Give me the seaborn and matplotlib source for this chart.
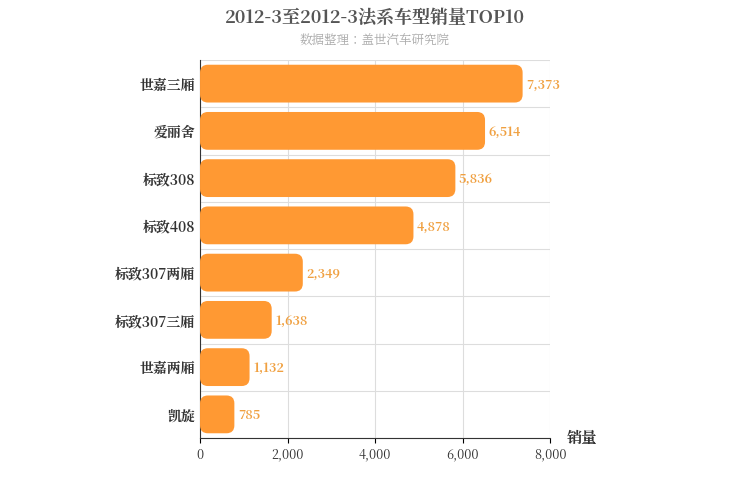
import matplotlib
matplotlib.use("Agg")
import matplotlib.pyplot as plt
from matplotlib import font_manager
import seaborn as sns
import pandas as pd
import numpy as np
from matplotlib.patches import FancyBboxPatch

# pick up the CJK font by file, in case the family name lookup fails
cjk = [f for f in font_manager.findSystemFonts() if "CJK" in f or "cjk" in f]
for f in cjk:
    try:
        font_manager.fontManager.addfont(f)
    except Exception:
        pass
names = [font_manager.FontProperties(fname=f).get_name() for f in cjk]
fam = next((n for n in names if "SC" in n), names[0] if names else "Noto Sans CJK SC")
plt.rcParams["font.family"] = [fam, "DejaVu Sans"]

models = ["世嘉三厢", "爱丽舍", "标致308", "标致408", "标致307两厢", "标致307三厢", "世嘉两厢", "凯旋"]
sales = [7373, 6514, 5836, 4878, 2349, 1638, 1132, 785]

df = pd.DataFrame({"model": models, "sales": sales})

fig = plt.figure(figsize=(7.5, 5), dpi=100)
ax = fig.add_axes([0.2667, 0.124, 0.4667, 0.756])

sns.barplot(data=df, x="sales", y="model", color="#ff9933", width=0.8, ax=ax, zorder=3)

# swap plain bars for rounded ones
for p in list(ax.patches):
    x, y, w, h = p.get_x(), p.get_y(), p.get_width(), p.get_height()
    p.remove()
    ax.add_patch(FancyBboxPatch((x, y), w, h, boxstyle="round,pad=0,rounding_size=180",
                                mutation_aspect=0.00093, facecolor="#ff9933",
                                edgecolor="none", zorder=3))

for i, v in enumerate(sales):
    ax.text(v + 80, i + 0.03, f"{v:,}", va="center", ha="left", fontsize=9,
            color="#f0a040", fontweight="bold")

ax.set_xlim(0, 8000)
ax.set_ylim(len(models) - 0.5, -0.5)
ax.set_xticks([0, 2000, 4000, 6000, 8000])
ax.set_xticklabels(["0", "2,000", "4,000", "6,000", "8,000"], fontsize=9, color="#333333")
ax.set_yticks(np.arange(-0.5, len(models)), minor=True)
ax.tick_params(axis="y", which="major", length=0, labelsize=10)
ax.tick_params(axis="y", which="minor", length=0)
for lab in ax.get_yticklabels():
    lab.set_fontweight("bold")
    lab.set_color("#333333")
ax.grid(axis="x", which="major", color="#dddddd", lw=0.8, zorder=0)
ax.grid(axis="y", which="minor", color="#dddddd", lw=0.8, zorder=0)
ax.set_xlabel("")
ax.set_ylabel("")
for s in ["top", "right"]:
    ax.spines[s].set_visible(False)
ax.spines["left"].set_color("#333333")
ax.spines["bottom"].set_color("#333333")

fig.text(0.5, 0.965, "2012-3至2012-3法系车型销量TOP10", ha="center", va="center",
         fontsize=13, fontweight="bold", color="#555555")
fig.text(0.5, 0.918, "数据整理：盖世汽车研究院", ha="center", va="center",
         fontsize=9, color="#aaaaaa")
fig.text(0.755, 0.123, "销量", ha="left", va="center", fontsize=11,
         fontweight="bold", color="#333333")

fig.savefig("out.png", dpi=100)
